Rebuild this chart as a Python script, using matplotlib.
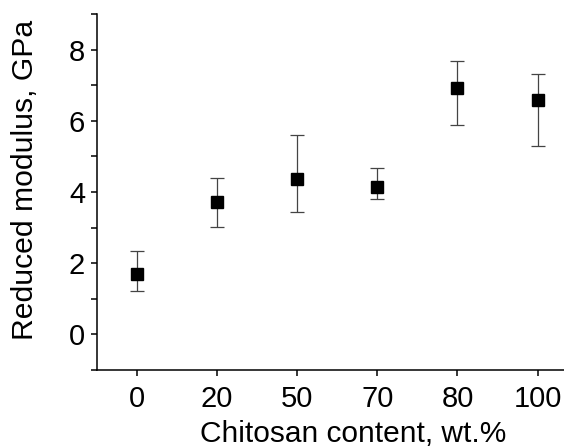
import matplotlib
matplotlib.use('Agg')
import matplotlib.pyplot as plt
from matplotlib.ticker import MultipleLocator

plt.rcParams['font.family'] = ['Liberation Sans', 'DejaVu Sans']

# data
categories = ['0', '20', '50', '70', '80', '100']
modulus = [1.69, 3.73, 4.36, 4.15, 6.92, 6.58]
err_low = [0.48, 0.70, 0.92, 0.36, 1.05, 1.28]
err_high = [0.65, 0.66, 1.23, 0.51, 0.75, 0.72]

fig = plt.figure(figsize=(5.64, 4.48), dpi=100)
ax = fig.add_axes([0.172, 0.174, 0.828, 0.795])

xs = range(len(categories))
ax.errorbar(xs, modulus, yerr=[err_low, err_high], fmt='s', color='black',
            markersize=8.5, ecolor='#444444', elinewidth=0.9, capsize=4.7,
            capthick=0.9)

ax.set_xlim(-0.5, 5.33)
ax.set_ylim(-1, 9)
ax.set_xticks(list(xs))
ax.set_xticklabels(categories)
ax.yaxis.set_major_locator(MultipleLocator(2))
ax.yaxis.set_minor_locator(MultipleLocator(1))

for s in ['top', 'right']:
    ax.spines[s].set_visible(False)
for s in ['left', 'bottom']:
    ax.spines[s].set_linewidth(1.1)

ax.tick_params(which='both', direction='out', length=4.5, width=1.1, labelsize=21, pad=4)
ax.tick_params(axis='x', pad=6)

ax.set_xlabel('Chitosan content, wt.%', fontsize=21.5)
ax.set_ylabel('Reduced modulus, GPa', fontsize=21.7)
ax.xaxis.set_label_coords(0.549, -0.139)
ax.yaxis.set_label_coords(-0.125, 0.534)

fig.savefig('out.png', dpi=100)
